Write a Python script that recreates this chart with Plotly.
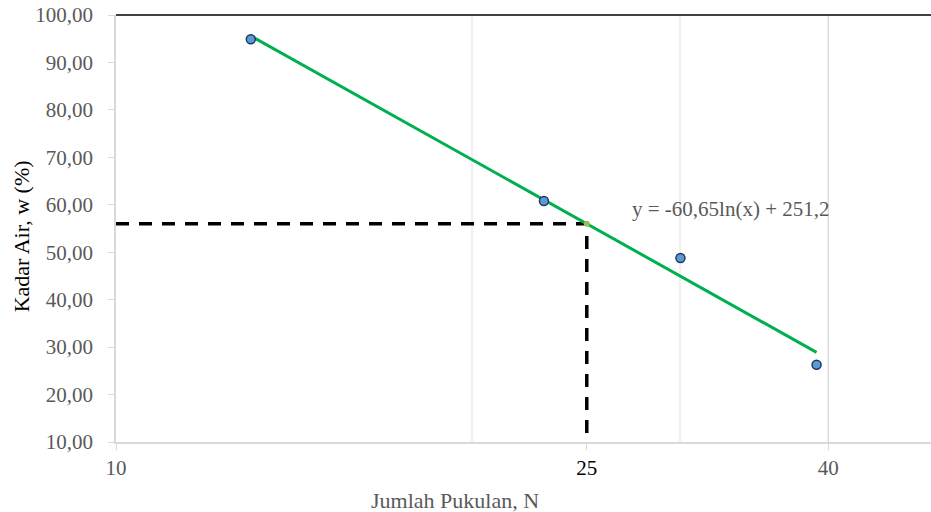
import plotly.graph_objects as go

# Measured data (Jumlah Pukulan N vs Kadar Air w %)
blows = [13.0, 23.0, 30.0, 39.1]
water_content = [94.9, 60.8, 48.8, 26.3]

# Logarithmic trendline endpoints
trend_x = [13.0, 39.1]
trend_y = [95.6, 28.9]

# Guide (dashed) lines to N = 25
guide_x = [10, 25, 25]
guide_y = [56.0, 56.0, 10.0]
intersect_x = [25]
intersect_y = [56.0]

x_tick_vals = [10, 25, 40]
x_tick_text = ["10", "<span style='color:#000000'>25</span>", "40"]
x_minor_grid = [20, 30]
x_major_grid = [40]

equation_text = "y = -60,65ln(x) + 251,2"
x_title = "Jumlah Pukulan, N"
y_title = "Kadar Air, w (%)"

FONT = "Liberation Serif, Times New Roman, serif"
GRAY = "#595959"

fig = go.Figure()

fig.add_trace(go.Scatter(
    x=guide_x, y=guide_y, mode="lines",
    line=dict(color="#000000", width=3.5, dash="13px,10px"),
    hoverinfo="skip", showlegend=False, cliponaxis=False,
))
fig.add_trace(go.Scatter(
    x=trend_x, y=trend_y, mode="lines",
    line=dict(color="#00B050", width=3),
    showlegend=False,
))
fig.add_trace(go.Scatter(
    x=intersect_x, y=intersect_y, mode="markers",
    marker=dict(size=6, color="#9BBB59", line=dict(width=0)),
    showlegend=False,
))
fig.add_trace(go.Scatter(
    x=blows, y=water_content, mode="markers",
    marker=dict(size=9, color="#5B9BD5", line=dict(color="#1F3864", width=1.5)),
    showlegend=False,
))

fig.update_layout(
    width=931, height=512,
    margin=dict(l=116, r=0, t=15, b=70),
    paper_bgcolor="white", plot_bgcolor="white",
    separators=",.",
    font=dict(family=FONT, size=21, color=GRAY),
    showlegend=False,
)

fig.update_xaxes(
    type="log", range=[1, 1.6889],
    tickvals=x_tick_vals, ticktext=x_tick_text,
    showgrid=False, zeroline=False,
    showline=True, linecolor="#d9d9d9", linewidth=1.5,
    ticks="outside", ticklen=6, tickcolor="#d9d9d9",
    tickfont=dict(family=FONT, size=21, color=GRAY),
    ticklabelstandoff=0,
    minor=dict(tickvals=x_minor_grid, showgrid=True, gridcolor="#f0f0f0", gridwidth=1.5, ticks=""),
)
fig.update_yaxes(
    range=[10, 100], dtick=10, tick0=10, tickformat=".2f",
    showgrid=False, zeroline=False,
    showline=True, linecolor="#d9d9d9", linewidth=1.5,
    ticks="outside", ticklen=6, tickcolor="#d9d9d9",
    tickfont=dict(family=FONT, size=21, color=GRAY),
    ticklabelstandoff=11,
)

# Darker major gridline at N = 40
for gx in x_major_grid:
    fig.add_shape(type="line", xref="x", yref="paper", x0=gx, x1=gx, y0=0, y1=1,
                  layer="below", line=dict(color="#dcdcdc", width=1.5))

# Dark top border of the plot area
fig.add_shape(type="line", xref="paper", yref="paper", x0=0, x1=1, y0=1, y1=1,
              line=dict(color="#404040", width=2))

fig.add_annotation(text=equation_text, xref="paper", yref="paper",
                   x=(630 - 116) / 815, y=(441.7 - 209) / 427,
                   xanchor="left", yanchor="middle", showarrow=False,
                   font=dict(family=FONT, size=21, color=GRAY))
fig.add_annotation(text=x_title, xref="paper", yref="paper",
                   x=(455 - 116) / 815, y=-(500 - 441.7) / 427,
                   xanchor="center", yanchor="middle", showarrow=False,
                   font=dict(family=FONT, size=22, color=GRAY))
fig.add_annotation(text=y_title, xref="paper", yref="paper",
                   x=-(116 - 21) / 815, y=(441.7 - 236) / 427,
                   xanchor="center", yanchor="middle", textangle=-90, showarrow=False,
                   font=dict(family=FONT, size=22, color="#000000"))

fig.write_html(
    "out.html",
    config={"displayModeBar": False},
    post_script="document.body.style.margin='0';document.body.style.padding='0';"
                "document.documentElement.style.overflow='hidden';document.body.style.overflow='hidden';",
)
